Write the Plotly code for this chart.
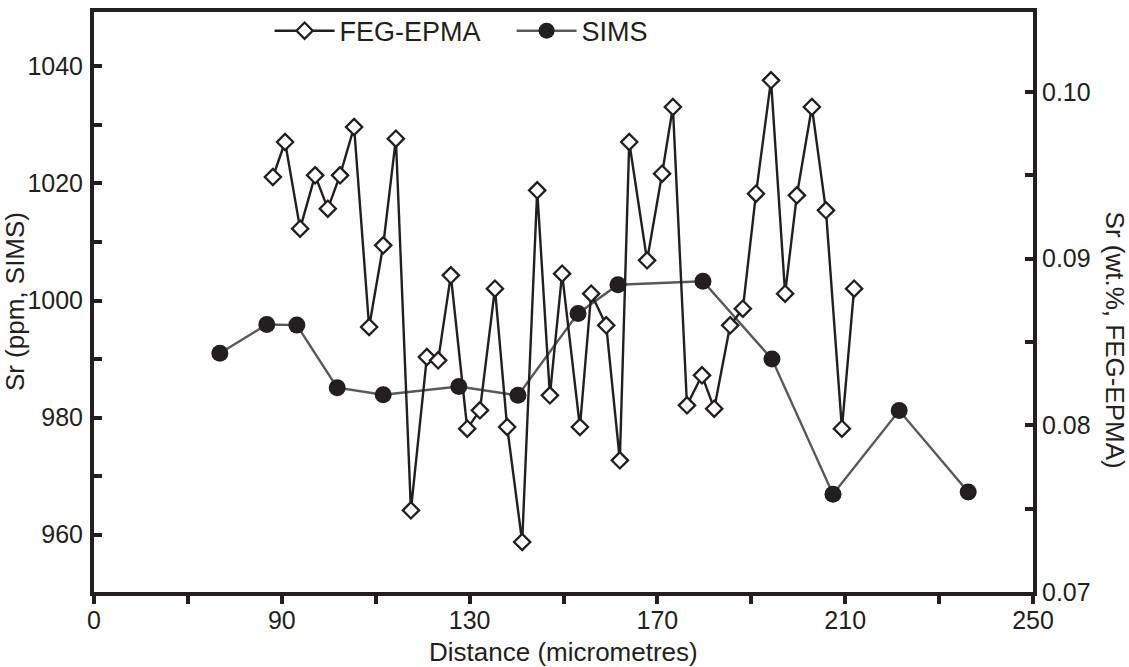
import plotly.graph_objects as go

# SIMS profile (left axis, ppm)
sims_x = [76.8, 86.8, 93.2, 101.8, 111.6, 127.7, 140.3, 153.1, 161.6, 179.7, 194.4, 207.4, 221.5, 236.2]
sims_sr = [991.0, 995.9, 995.8, 985.1, 983.9, 985.3, 983.8, 997.8, 1002.7, 1003.3, 990.0, 966.9, 981.2, 967.3]

# FEG-EPMA profile (right axis, wt.%)
epma_x = [88.1, 90.7, 93.9, 97.1, 99.8, 102.4, 105.4, 108.6, 111.6, 114.3,
          117.5, 120.9, 123.3, 126.0, 129.5, 132.2, 135.4, 138.0, 141.2, 144.4,
          147.1, 149.7, 153.5, 155.9, 159.1, 162.0, 164.0, 167.8, 171.0, 173.3,
          176.3, 179.5, 182.1, 185.5, 188.2, 191.0, 194.2, 197.2, 199.7, 202.9,
          205.9, 209.3, 211.9]
epma_sr = [0.0949, 0.0970, 0.0918, 0.0950, 0.0930, 0.0950, 0.0979, 0.0859, 0.0908, 0.0972,
           0.0749, 0.0841, 0.0839, 0.0890, 0.0798, 0.0809, 0.0882, 0.0799, 0.0730, 0.0941,
           0.0818, 0.0891, 0.0799, 0.0879, 0.0860, 0.0779, 0.0970, 0.0899, 0.0951, 0.0991,
           0.0812, 0.0830, 0.0810, 0.0860, 0.0870, 0.0939, 0.1007, 0.0879, 0.0938, 0.0991,
           0.0929, 0.0798, 0.0882]

x_tickvals = [50, 90, 130, 170, 210, 250]
x_ticktext = ["0", "90", "130", "170", "210", "250"]
x_minor = [70, 110, 150, 190, 230]
left_tickvals = [960, 980, 1000, 1020, 1040]
left_minor = [970, 990, 1010, 1030]
right_tickvals = [0.07, 0.08, 0.09, 0.10]
right_ticktext = ["0.07", "0.08", "0.09", "0.10"]
right_minor = [0.075, 0.085, 0.095]

INK = "#231f20"
FONT = "Arial, Liberation Sans, sans-serif"

fig = go.Figure()
fig.add_trace(go.Scatter(
    x=epma_x, y=epma_sr, yaxis="y2", name="FEG-EPMA", mode="lines+markers",
    line=dict(color=INK, width=2.4),
    marker=dict(symbol="diamond", size=12.5, color="white", line=dict(color=INK, width=2.3)),
))
fig.add_trace(go.Scatter(
    x=sims_x, y=sims_sr, name="SIMS", mode="lines+markers",
    line=dict(color="#58595b", width=2.4),
    marker=dict(symbol="circle", size=17, color=INK),
))

axis_common = dict(showgrid=False, zeroline=False, showline=True, linecolor=INK, linewidth=4,
                   tickcolor=INK, tickwidth=4, ticklen=8,
                   tickfont=dict(family=FONT, size=25, color=INK))


def minor_ticks(vals, side):
    return dict(tickvals=vals, ticks=side, ticklen=8, tickwidth=4, tickcolor=INK)


fig.update_layout(
    width=1129, height=667,
    margin=dict(l=94, r=96, t=7, b=75),
    paper_bgcolor="white", plot_bgcolor="white",
    font=dict(family=FONT, color=INK),
    showlegend=True,
    legend=dict(orientation="h", x=0.187, y=0.967, xanchor="left", yanchor="middle",
                font=dict(family=FONT, size=27, color=INK), bgcolor="rgba(0,0,0,0)",
                itemwidth=60, entrywidth=167, entrywidthmode="pixels"),
    xaxis=dict(range=[50, 250], tickmode="array", tickvals=x_tickvals, ticktext=x_ticktext,
               ticks="outside", mirror=True, ticklabelstandoff=-5,
               minor=minor_ticks(x_minor, "outside"), **axis_common),
    yaxis=dict(range=[950.2, 1049.3], tickmode="array", tickvals=left_tickvals,
               ticks="inside", ticklabelstandoff=2,
               minor=minor_ticks(left_minor, "inside"), **axis_common),
    yaxis2=dict(range=[0.07, 0.1048], overlaying="y", side="right", tickmode="array",
                tickvals=right_tickvals, ticktext=right_ticktext, ticks="inside",
                ticklabelstandoff=0,
                minor=minor_ticks(right_minor, "inside"), **axis_common),
    annotations=[
        dict(text="Distance (micrometres)", xref="paper", yref="paper", x=0.5, y=-0.1026,
             xanchor="center", yanchor="middle", showarrow=False,
             font=dict(family=FONT, size=26, color=INK)),
        dict(text="Sr (ppm, SIMS)", xref="paper", yref="paper", x=-0.084, y=0.5,
             xanchor="center", yanchor="middle", textangle=-90, showarrow=False,
             font=dict(family=FONT, size=26, color=INK)),
        dict(text="Sr (wt.%, FEG-EPMA)", xref="paper", yref="paper", x=1.087, y=0.434,
             xanchor="center", yanchor="middle", textangle=90, showarrow=False,
             font=dict(family=FONT, size=26, color=INK)),
    ],
)

# drop the default 8px body margin so the figure sits flush in the window
fig.write_html("out.html", config={"displayModeBar": False},
               post_script="document.body.style.margin='0';")
